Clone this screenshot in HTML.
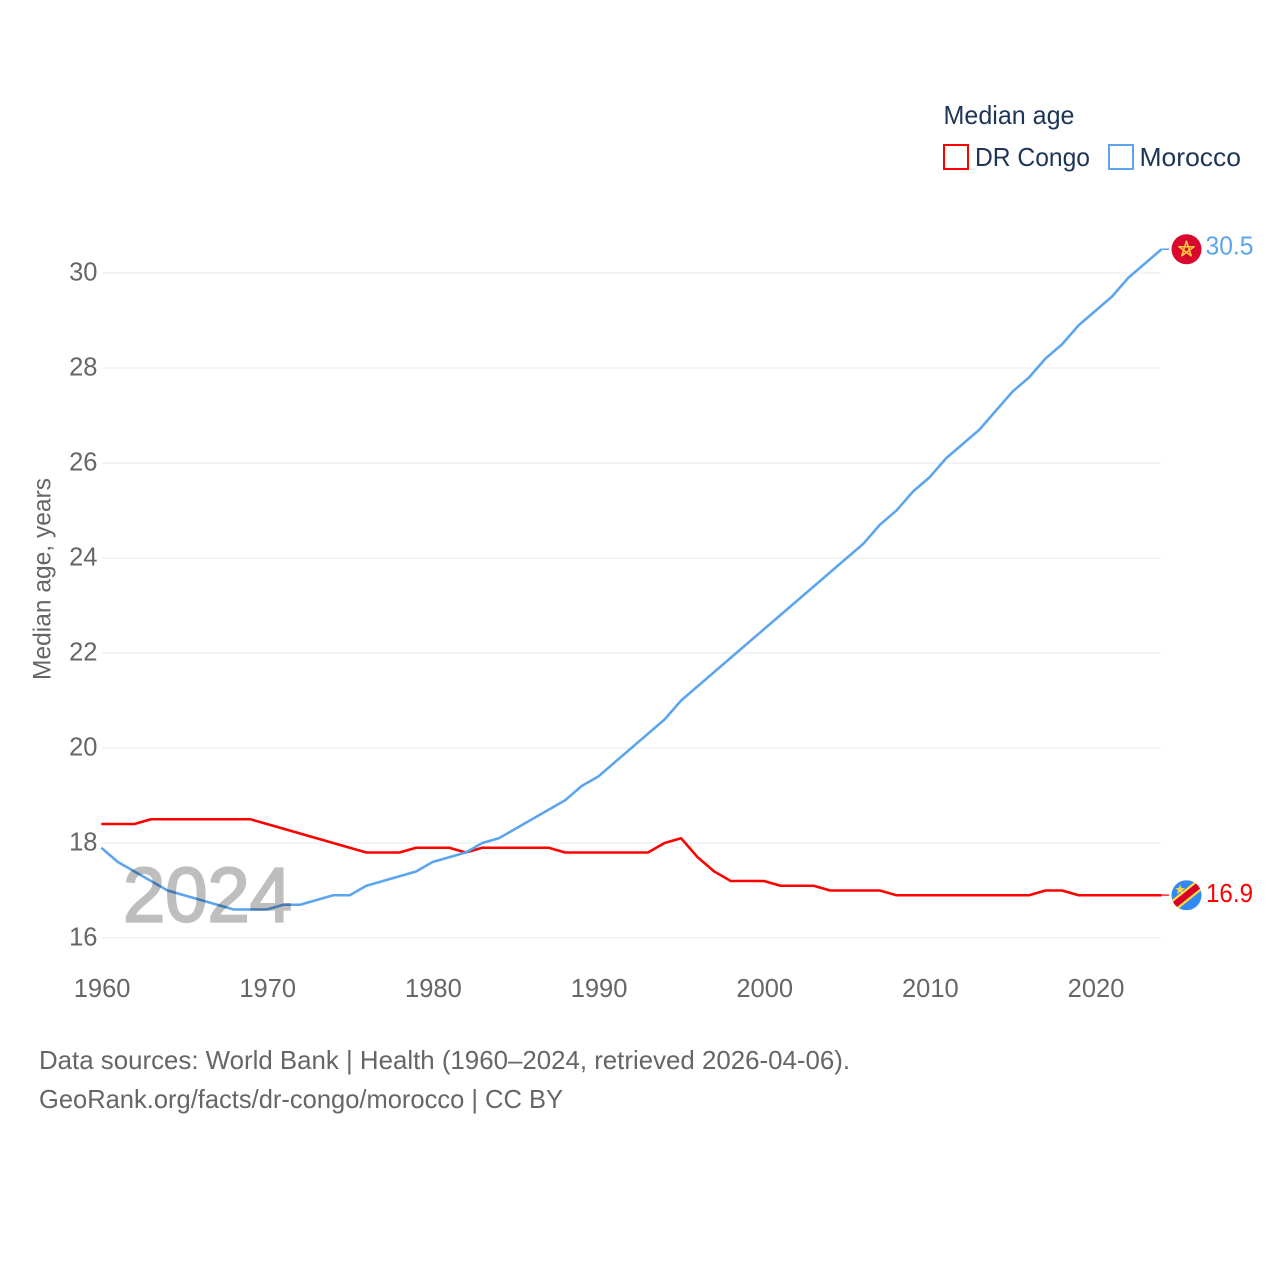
<!DOCTYPE html>
<html lang="en">
<head>
<meta charset="utf-8">
<title>Median age: DR Congo and Morocco</title>
<style>
html,body{margin:0;padding:0;background:#fff;}
svg{display:block;}
text{font-family:"Liberation Sans",sans-serif;}
</style>
</head>
<body>
<svg id="chart" xmlns="http://www.w3.org/2000/svg" width="1280" height="1280" viewBox="0 0 1280 1280">
  <rect x="0" y="0" width="1280" height="1280" fill="#ffffff"/>
  <g id="grid"></g>
  <g id="yticks"></g>
  <g id="xticks"></g>
  <text transform="translate(50.5,680) rotate(-90)" font-size="25" fill="#666666" textLength="202" lengthAdjust="spacingAndGlyphs">Median age, years</text>
  <g id="series"></g>
  <text x="123" y="921.5" font-size="77" fill="#000000" stroke="#000000" stroke-width="2.2" opacity="0.25" textLength="169" lengthAdjust="spacingAndGlyphs">2024</text>

  <g>
    <text x="943.5" y="124" font-size="26" fill="#1d3557" textLength="131" lengthAdjust="spacingAndGlyphs">Median age</text>
    <g>
      <rect x="944" y="145" width="24" height="24" fill="none" stroke="#ff0000" stroke-width="2"/>
      <text x="975" y="166" font-size="26" fill="#1d3557" textLength="115" lengthAdjust="spacingAndGlyphs">DR Congo</text>
    </g>
    <g>
      <rect x="1109" y="145" width="24" height="24" fill="none" stroke="#5ba4ee" stroke-width="2"/>
      <text x="1139.5" y="166" font-size="26" fill="#1d3557" textLength="101.5" lengthAdjust="spacingAndGlyphs">Morocco</text>
    </g>
  </g>

  <defs>
    <clipPath id="flagClipCd"><circle cx="0" cy="0" r="15"/></clipPath>
  </defs>

  <g id="endMa"></g>
  <g id="endCd"></g>

  <text x="39" y="1069" font-size="26" fill="#666666" textLength="811" lengthAdjust="spacingAndGlyphs">Data sources: World Bank | Health (1960–2024, retrieved 2026-04-06).</text>
  <text x="39" y="1108" font-size="26" fill="#666666" textLength="524" lengthAdjust="spacingAndGlyphs">GeoRank.org/facts/dr-congo/morocco | CC BY</text>
</svg>
<script>
const years = [1960,1961,1962,1963,1964,1965,1966,1967,1968,1969,1970,1971,1972,1973,1974,1975,1976,1977,1978,1979,1980,1981,1982,1983,1984,1985,1986,1987,1988,1989,1990,1991,1992,1993,1994,1995,1996,1997,1998,1999,2000,2001,2002,2003,2004,2005,2006,2007,2008,2009,2010,2011,2012,2013,2014,2015,2016,2017,2018,2019,2020,2021,2022,2023,2024];
const drCongo = [18.4,18.4,18.4,18.5,18.5,18.5,18.5,18.5,18.5,18.5,18.4,18.3,18.2,18.1,18.0,17.9,17.8,17.8,17.8,17.9,17.9,17.9,17.8,17.9,17.9,17.9,17.9,17.9,17.8,17.8,17.8,17.8,17.8,17.8,18.0,18.1,17.7,17.4,17.2,17.2,17.2,17.1,17.1,17.1,17.0,17.0,17.0,17.0,16.9,16.9,16.9,16.9,16.9,16.9,16.9,16.9,16.9,17.0,17.0,16.9,16.9,16.9,16.9,16.9,16.9];
const morocco = [17.9,17.6,17.4,17.2,17.0,16.9,16.8,16.7,16.6,16.6,16.6,16.7,16.7,16.8,16.9,16.9,17.1,17.2,17.3,17.4,17.6,17.7,17.8,18.0,18.1,18.3,18.5,18.7,18.9,19.2,19.4,19.7,20.0,20.3,20.6,21.0,21.3,21.6,21.9,22.2,22.5,22.8,23.1,23.4,23.7,24.0,24.3,24.7,25.0,25.4,25.7,26.1,26.4,26.7,27.1,27.5,27.8,28.2,28.5,28.9,29.2,29.5,29.9,30.2,30.5];
const yTickValues = [16,18,20,22,24,26,28,30];
const xTickValues = [1960,1970,1980,1990,2000,2010,2020];

const NS = 'http://www.w3.org/2000/svg';
function xScale(year){ return 101.3 + (year - 1960) * (1161.5 - 101.3) / 64; }
function yScale(v){ return 938 - (v - 16) * (938 - 273) / 14; }
function make(tag, parent, attrs){
  const el = document.createElementNS(NS, tag);
  for (const k in attrs) el.setAttribute(k, attrs[k]);
  parent.appendChild(el);
  return el;
}

const grid = document.getElementById('grid');
const yticks = document.getElementById('yticks');
yTickValues.forEach(function(v){
  const y = yScale(v);
  const line = make('line', grid, {x1:102, x2:1161, y1:y, y2:y, stroke:'#e8e8e8', 'stroke-width':1.1});
  
  
  const t = make('text', yticks, {x:97.5, y:y+7.5, 'text-anchor':'end', 'font-size':25.5, fill:'#666666'});
  
  
  t.textContent = String(v);
});

const xticks = document.getElementById('xticks');
xTickValues.forEach(function(v){
  const t = make('text', xticks, {x:xScale(v) + 0.8, y:997, 'text-anchor':'middle', 'font-size':25.5, fill:'#666666'});
  
  
  t.textContent = String(v);
});

function linePoints(values){
  return values.map(function(v, i){
    return xScale(years[i]).toFixed(2) + ',' + yScale(v).toFixed(2);
  }).join(' ');
}

const seriesGroup = document.getElementById('series');
const congoLine = make('polyline', seriesGroup, {points:linePoints(drCongo), fill:'none', stroke:'#ff0000', 'stroke-width':2.5, 'stroke-linejoin':'round'});


const moroccoLine = make('polyline', seriesGroup, {points:linePoints(morocco), fill:'none', stroke:'#5ba4ee', 'stroke-width':2.5, 'stroke-linejoin':'round'});



// End-of-line markers follow the last value of each series
const lastX = xScale(years[years.length - 1]);
const maY = yScale(morocco[morocco.length - 1]);
const cdY = yScale(drCongo[drCongo.length - 1]);
const flagX = 1186.5;

const endMa = document.getElementById('endMa');
const maConnector = make('line', endMa, {x1:lastX, x2:1169, y1:maY, y2:maY, stroke:'#5ba4ee', 'stroke-width':1.6});


const maFlag = make('g', endMa, {transform:'translate(' + flagX + ',' + maY + ')'});


make('circle', maFlag, {cx:0, cy:0, r:15, fill:'#d9082f'});
make('polygon', maFlag, {points:'0,-8 4.7,6.5 -7.6,-2.5 7.6,-2.5 -4.7,6.5', fill:'none', stroke:'#ffc93c', 'stroke-width':1.6, 'stroke-linejoin':'round'});
const maValue = make('text', endMa, {x:1205.5, y:maY+5, 'font-size':25.5, fill:'#5ba4ee', textLength:48, lengthAdjust:'spacingAndGlyphs'});


maValue.textContent = morocco[morocco.length - 1].toFixed(1);

const endCd = document.getElementById('endCd');
const cdConnector = make('line', endCd, {x1:lastX, x2:1169, y1:cdY, y2:cdY, stroke:'#ff4040', 'stroke-width':1.6});


const cdFlag = make('g', endCd, {transform:'translate(' + flagX + ',' + cdY + ')', 'clip-path':'url(#flagClipCd)'});


make('rect', cdFlag, {x:-15, y:-15, width:30, height:30, fill:'#338af3'});
make('line', cdFlag, {x1:-16, y1:12.8, x2:16, y2:-12.8, stroke:'#ffda44', 'stroke-width':11});
make('line', cdFlag, {x1:-16, y1:12.8, x2:16, y2:-12.8, stroke:'#d80027', 'stroke-width':6.5});
make('polygon', cdFlag, {points:'-7,-10.5 -5.6,-6.6 -1.6,-6.6 -4.8,-4.2 -3.6,-0.4 -7,-2.7 -10.4,-0.4 -9.2,-4.2 -12.4,-6.6 -8.4,-6.6', fill:'#ffda44', transform:'translate(0,-1) scale(0.92)'});
const cdValue = make('text', endCd, {x:1206, y:cdY+6.5, 'font-size':25.5, fill:'#ff0000', textLength:47, lengthAdjust:'spacingAndGlyphs'});


cdValue.textContent = drCongo[drCongo.length - 1].toFixed(1);
</script>
</body>
</html>
